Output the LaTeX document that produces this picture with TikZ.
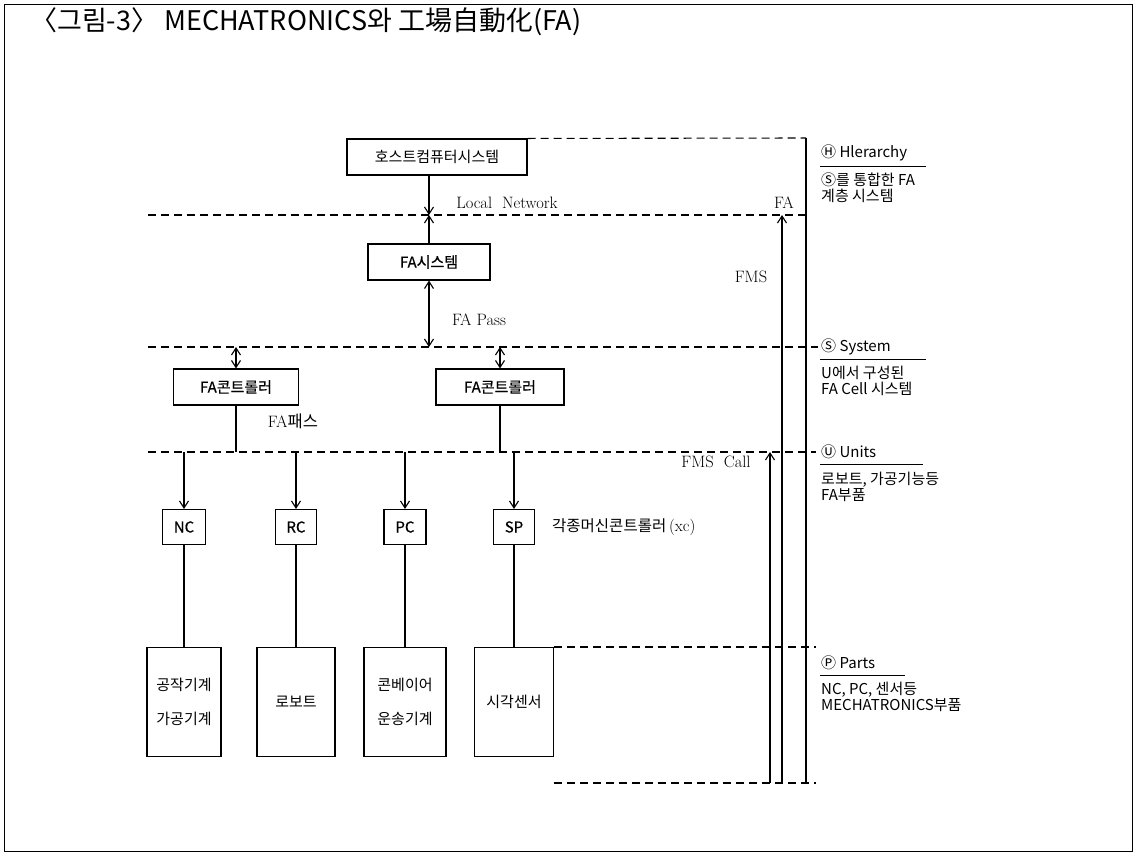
\documentclass[tikz,border=0pt]{standalone}
\usepackage{fontspec}
\newfontfamily\kr{Noto Sans CJK KR}
\newfontfamily\krb[FakeBold=0.6]{Noto Sans CJK KR}
\usetikzlibrary{arrows.meta}

\begin{document}
\begin{tikzpicture}[x=1pt,y=-1pt,>={Straight Barb[length=7pt,width=9pt]}]
\tikzstyle{box} = [draw, line width=1.1pt, inner sep=0pt, minimum height=36pt, font=\krb\fontsize{15}{18}\selectfont]
\tikzstyle{part} = [box, minimum height=109pt, align=center, font=\kr\fontsize{15}{34}\selectfont]
\tikzstyle{level} = [line width=1.1pt, dash pattern=on 8pt off 5pt]
\tikzstyle{wire} = [line width=1.1pt]
\tikzstyle{serif} = [inner sep=0pt, font=\fontsize{16.5}{19}\selectfont]
\tikzstyle{side} = [inner sep=0pt, anchor=west, align=left, font=\kr\fontsize{15}{16}\selectfont]

\useasboundingbox (0,0) rectangle (1136,855);
\draw[line width=1pt] (4,4) rectangle (1132,851);

\node[anchor=west, inner sep=0pt, font=\kr\fontsize{27}{30}\selectfont] (title) at (30,22) {〈그림-3〉 MECHATRONICS와 工場自動化(FA)};

% levels
\coordinate (lnet) at (148,215);
\coordinate (sysl) at (148,347);
\coordinate (unitl) at (148,452);
\coordinate (topr) at (806,138);
\coordinate (botr) at (806,783);

\node[box, minimum width=180pt, font=\kr\fontsize{15}{18}\selectfont] (host) at (437,157) {호스트컴퓨터시스템};
\node[box, minimum width=122pt] (fasys) at (429,262) {FA시스템};
\node[box, minimum width=125pt] (ctla) at (236,387) {FA콘트롤러};
\node[box, minimum width=128pt] (ctlb) at (500,387) {FA콘트롤러};

\node[box, minimum width=43pt, minimum height=35pt] (nc) at (184,527) {NC};
\node[box, minimum width=41pt, minimum height=35pt] (rc) at (296,527) {RC};
\node[box, minimum width=42pt, minimum height=35pt] (pc) at (405,527) {PC};
\node[box, minimum width=41pt, minimum height=35pt] (sp) at (514,527) {SP};

\node[part, minimum width=74pt] (tool) at (184,702) {공작기계\\가공기계};
\node[part, minimum width=78pt] (robot) at (296,702) {로보트};
\node[part, minimum width=82pt] (conv) at (405,702) {콘베이어\\운송기계};
\node[part, minimum width=79pt] (vis) at (514,702) {시각센서};

\draw[level] (host.north east) -- (topr);
\draw[level] (lnet) -- (lnet -| topr);
\draw[level] (sysl) -- ([xshift=12pt]sysl -| topr);
\draw[level] (unitl) -- ([xshift=10pt]unitl -| topr);
\draw[level] (vis.north east) -- ([xshift=10pt]vis.north -| topr);
\draw[level] (vis.south east |- botr) -- ([xshift=10pt]botr);
\draw[wire] (topr) -- (botr);

\draw[wire,->] (host.south -| fasys) -- (fasys |- lnet);
\draw[wire,->] (fasys.north) -- (fasys |- lnet);
\draw[wire,<->] (fasys.south) -- (fasys |- sysl);
\draw[wire,<->] (ctla |- sysl) -- (ctla.north);
\draw[wire,<->] (ctlb |- sysl) -- (ctlb.north);
\draw[wire] (ctla.south) -- (ctla |- unitl);
\draw[wire] (ctlb.south) -- (ctlb |- unitl);

\foreach \u/\p in {nc/tool, rc/robot, pc/conv, sp/vis} {
  \draw[wire,->] (\u |- unitl) -- (\u.north);
  \draw[wire] (\u.south) -- (\p.north);
}

\coordinate (fmsb) at (782,783);
\coordinate (callb) at (770,783);
\draw[wire,->] (fmsb) -- (fmsb |- lnet);
\draw[wire,->] (callb) -- (callb |- unitl);

\node[serif] (lnlabel) at (507,203) {Local~ Network};
\node[serif] (falabel) at (784,203) {FA};
\node[serif] (fmslabel) at (751,277) {FMS};
\node[serif] (passlabel) at (479,320) {FA Pass};
\node[serif] (pathlabel) at (293,421) {FA{\kr 패스}};
\node[serif] (calllabel) at (716,462) {FMS~ Call};
\node[serif, anchor=west] (xclabel) at (552,527) {{\kr\fontsize{15.5}{18}\selectfont 각종머신콘트롤러}\,(xc)};

% right side
\node[side] (hier) at (821,153) {Ⓗ Hlerarchy};
\draw[thin] (820,166) -- (926,166);
\node[side] (hiertext) at (821,188) {Ⓢ를 통합한 FA\\계층 시스템};

\node[side] (sys) at (821,347) {Ⓢ System};
\draw[thin] (820,359) -- (926,359);
\node[side] (systext) at (821,381) {U에서 구성된\\FA Cell 시스템};

\node[side] (unit) at (821,452) {Ⓤ Units};
\draw[thin] (820,464) -- (923,464);
\node[side] (unittext) at (821,487) {로보트, 가공기능등\\FA부품};

\node[side] (parts) at (821,663) {Ⓟ Parts};
\draw[thin] (820,675) -- (905,675);
\node[side] (partstext) at (821,697) {NC, PC, 센서등\\MECHATRONICS부품};

\end{tikzpicture}
\end{document}
